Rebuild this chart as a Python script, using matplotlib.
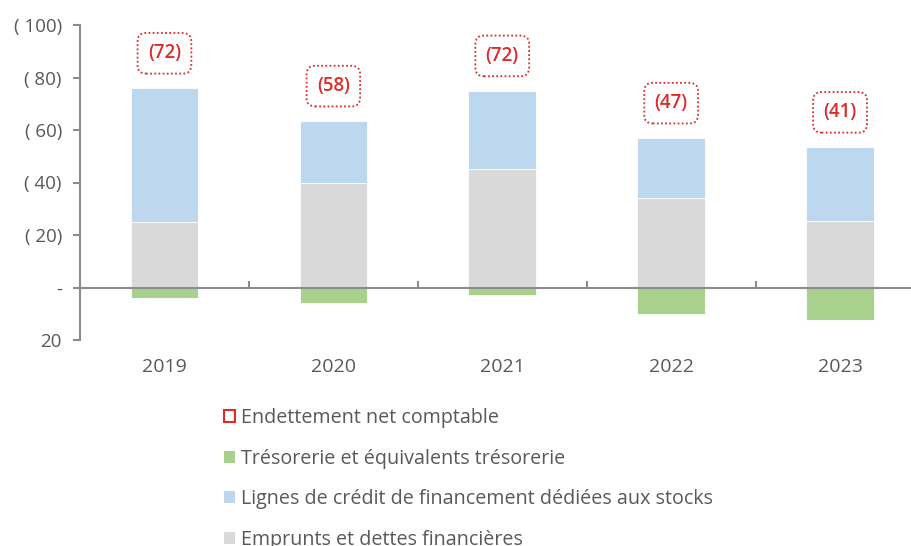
import matplotlib
matplotlib.use("Agg")
import matplotlib.pyplot as plt
from matplotlib.ticker import FuncFormatter, FixedLocator
from matplotlib.patches import Patch

plt.rcParams['font.family'] = ['Open Sans', 'DejaVu Sans']

years = ["2019", "2020", "2021", "2022", "2023"]
emprunts = [-25, -40, -45, -34, -25.5]
lignes = [-51, -23.5, -30, -23, -28]
tresorerie = [4, 6, 3, 10, 12.5]
net = [-72, -58, -72, -47, -41]
net_labels = ["(72)", "(58)", "(72)", "(47)", "(41)"]
yticks = [-100, -80, -60, -40, -20, 0, 20]

c_grey = "#D9D9D9"
c_blue = "#BDD7EE"
c_green = "#A9D18E"
c_red = "#E02A2A"
c_text = "#595959"
c_axis = "#8C8C8C"

fig = plt.figure(figsize=(9.12, 5.46), dpi=100)
ax = fig.add_axes([80 / 912, 1 - 340 / 546, 844.5 / 912, 315 / 546])

x = list(range(len(years)))
w = 0.40
ax.bar(x, emprunts, width=w, color=c_grey, edgecolor="white", linewidth=0.6, zorder=2)
ax.bar(x, lignes, width=w, bottom=emprunts, color=c_blue, edgecolor="white", linewidth=0.6, zorder=2)
ax.bar(x, tresorerie, width=w, color=c_green, edgecolor="white", linewidth=0.6, zorder=2)

ax.set_xlim(-0.5, len(years) - 0.5)
ax.set_ylim(20, -100)

def fmt(v, pos):
    if abs(v) < 1e-9:
        return "-"
    if v < 0:
        return "( %d)" % (-v)
    return "%d" % v

ax.yaxis.set_major_locator(FixedLocator(yticks))
ax.yaxis.set_major_formatter(FuncFormatter(fmt))

for s in ["top", "right"]:
    ax.spines[s].set_visible(False)
ax.spines["left"].set_color(c_axis)
ax.spines["left"].set_linewidth(1.5)
ax.spines["bottom"].set_position(("data", 0))
ax.spines["bottom"].set_color(c_axis)
ax.spines["bottom"].set_linewidth(1.5)
ax.spines["bottom"].set_zorder(3)

ax.tick_params(axis="y", direction="out", length=5, width=1.5, color=c_axis,
               labelcolor=c_text, labelsize=13.5, pad=8)
ax.set_xticks(x)
ax.set_xticklabels(years)
ax.tick_params(axis="x", which="major", length=0, labelcolor=c_text, labelsize=14, pad=51)
ax.set_xticks([i + 0.5 for i in x[:-1]], minor=True)
ax.tick_params(axis="x", which="minor", direction="in", length=5, width=1.5, color=c_axis)

for i in x:
    top = emprunts[i] + lignes[i]
    ax.annotate(net_labels[i], xy=(i, top), xytext=(0, 25), textcoords="offset points",
                ha="center", va="center", fontsize=13.5, fontweight="semibold", color=c_red,
                bbox=dict(boxstyle="round,pad=0.55,rounding_size=0.45", fc="white",
                          ec=c_red, ls=(0, (1, 1.3)), lw=1.3), zorder=4)

handles = [
    Patch(facecolor="white", edgecolor=c_red, linewidth=1.5),
    Patch(facecolor=c_green, edgecolor="none"),
    Patch(facecolor=c_blue, edgecolor="none"),
    Patch(facecolor=c_grey, edgecolor="none"),
]
labels = ["Endettement net comptable", "Trésorerie et équivalents trésorerie",
          "Lignes de crédit de financement dédiées aux stocks", "Emprunts et dettes financières"]
leg = fig.legend(handles, labels, loc="upper left", bbox_to_anchor=(224 / 912, 1 - 408 / 546),
                 frameon=False, fontsize=14.2, labelcolor=c_text, handlelength=0.55,
                 handleheight=0.55, handletextpad=0.3, labelspacing=1.05, borderpad=0,
                 borderaxespad=0)

fig.savefig("out.png", dpi=100)
